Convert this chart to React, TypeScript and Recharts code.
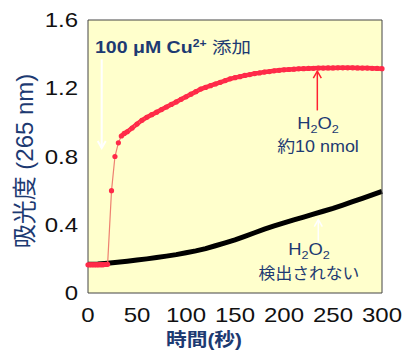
import React from 'react';
import { LineChart, Line, XAxis, YAxis, CartesianGrid, ReferenceLine } from 'recharts';

// red: with 100 µM Cu2+ added (H2O2 ~10 nmol)
const redTime = [0, 2.5, 5, 7.5, 10, 12.5, 15, 17.5, 20, 24, 27.5, 31, 34, 37, 40, 45, 50, 55, 60, 65, 70, 75, 80, 85, 90, 95, 100, 105, 110, 115, 120, 125, 130, 135, 140, 145, 150, 155, 160, 165, 170, 175, 180, 185, 190, 195, 200, 205, 210, 215, 220, 225, 230, 235, 240, 245, 250, 255, 260, 265, 270, 275, 280, 285, 290, 295, 300];
const redAbs = [0.165, 0.165, 0.165, 0.165, 0.165, 0.166, 0.166, 0.167, 0.168, 0.6, 0.8, 0.88, 0.92, 0.935, 0.945, 0.967, 0.99, 1.012, 1.03, 1.045, 1.06, 1.075, 1.09, 1.105, 1.12, 1.135, 1.15, 1.165, 1.18, 1.195, 1.205, 1.215, 1.225, 1.235, 1.245, 1.255, 1.262, 1.268, 1.275, 1.28, 1.286, 1.29, 1.295, 1.298, 1.302, 1.305, 1.308, 1.31, 1.312, 1.314, 1.315, 1.316, 1.317, 1.318, 1.318, 1.319, 1.319, 1.32, 1.32, 1.32, 1.32, 1.319, 1.318, 1.318, 1.317, 1.316, 1.315];

// black: no H2O2 detected
const blackTime = [0, 10, 20, 30, 40, 50, 60, 70, 80, 90, 100, 110, 120, 130, 140, 150, 160, 170, 180, 190, 200, 210, 220, 230, 240, 250, 260, 270, 280, 290, 300];
const blackAbs = [0.168, 0.17, 0.175, 0.18, 0.186, 0.193, 0.2, 0.208, 0.216, 0.225, 0.236, 0.247, 0.26, 0.277, 0.294, 0.312, 0.332, 0.353, 0.374, 0.393, 0.411, 0.428, 0.445, 0.462, 0.479, 0.496, 0.515, 0.535, 0.555, 0.575, 0.595];

const xTicks = [0, 50, 100, 150, 200, 250, 300];
const yTicks = [0, 0.4, 0.8, 1.2, 1.6];
const xMinor = Array.from({ length: 19 }, (_, i) => (i * 300) / 18);
const yMinor = Array.from({ length: 33 }, (_, i) => i * 0.05);

const redData = redTime.map((t, i) => ({ t, v: redAbs[i] }));
const blackData = blackTime.map((t, i) => ({ t, v: blackAbs[i] }));
// densely sampled stretches (before the jump, and after it) look like a solid thick line
const redBefore = redData.filter((d) => d.t <= 20);
const redAfter = redData.filter((d) => d.t >= 34);

const RED = '#ff2a48';
const NAVY = '#1d3a72';
const FONT = '"Liberation Sans", Arial, "Noto Sans CJK JP", sans-serif';

const XTick = (props: any) => {
  const { x, y, payload } = props;
  return (
    <g transform={`translate(${x},${y})`}>
      <text transform="scale(1.2,1)" textAnchor="middle" dy="0.71em" fontSize={20} fill="#111" fontFamily={FONT}>
        {payload.value}
      </text>
    </g>
  );
};

const YTick = (props: any) => {
  const { x, y, payload } = props;
  return (
    <g transform={`translate(${x},${y})`}>
      <text transform="scale(1.2,1)" textAnchor="end" dy="0.36em" fontSize={20} fill="#111" fontFamily={FONT}>
        {payload.value}
      </text>
    </g>
  );
};

const arrow = (color: string, w: number) => (props: any) => {
  const { x1, y1, x2, y2 } = props;
  const dir = y2 > y1 ? 1 : -1;
  return (
    <g>
      <line x1={x1} y1={y1} x2={x2} y2={y2} stroke={color} strokeWidth={w} />
      <polyline
        points={`${x2 - 4},${y2 - dir * 7} ${x2},${y2} ${x2 + 4},${y2 - dir * 7}`}
        fill="none"
        stroke={color}
        strokeWidth={w}
      />
    </g>
  );
};

const txt = (left: number, top: number, size: number, extra: React.CSSProperties = {}): React.CSSProperties => ({
  position: 'absolute',
  left,
  top,
  fontSize: size,
  lineHeight: `${size}px`,
  color: NAVY,
  fontFamily: FONT,
  whiteSpace: 'nowrap',
  ...extra,
});

export default function App() {
  return (
    <div style={{ position: 'relative', width: 402, height: 354, background: '#fff' }}>
      <style>{'body{margin:0}'}</style>
      <LineChart width={402} height={354} margin={{ top: 19, right: 19, bottom: 60, left: 87 }}>
        <CartesianGrid horizontal={false} vertical={false} fill="#ffffcc" />
        <XAxis dataKey="t" type="number" domain={[0, 300]} ticks={xTicks} tick={XTick} tickLine={false}
          axisLine={{ stroke: '#444' }} height={1} tickSize={0} tickMargin={15} />
        <XAxis xAxisId="minor" dataKey="t" type="number" domain={[0, 300]} ticks={xMinor} tick={false} mirror
          axisLine={false} tickLine={{ stroke: '#999' }} tickSize={3} height={1} />
        <XAxis xAxisId="major" dataKey="t" type="number" domain={[0, 300]} ticks={xTicks} tick={false} mirror
          axisLine={false} tickLine={{ stroke: '#999' }} tickSize={6} height={1} />
        <XAxis xAxisId="top" orientation="top" dataKey="t" type="number" domain={[0, 300]} tick={false}
          tickLine={false} axisLine={{ stroke: '#444' }} height={1} />
        <YAxis type="number" domain={[0, 1.6]} ticks={yTicks} tick={YTick} tickLine={false}
          axisLine={{ stroke: '#444' }} width={1} tickSize={0} tickMargin={10} />
        <YAxis yAxisId="minor" type="number" domain={[0, 1.6]} ticks={yMinor} tick={false} mirror
          axisLine={false} tickLine={{ stroke: '#999' }} tickSize={3} width={1} />
        <YAxis yAxisId="major" type="number" domain={[0, 1.6]} ticks={yTicks} tick={false} mirror
          axisLine={false} tickLine={{ stroke: '#999' }} tickSize={6} width={1} />
        <YAxis yAxisId="right" orientation="right" type="number" domain={[0, 1.6]} tick={false}
          tickLine={false} axisLine={{ stroke: '#444' }} width={1} />
        <Line data={blackData} dataKey="v" stroke="#000" strokeWidth={5} dot={false} isAnimationActive={false} />
        <Line data={redBefore} dataKey="v" stroke={RED} strokeWidth={5} dot={false} isAnimationActive={false} />
        <Line data={redAfter} dataKey="v" stroke={RED} strokeWidth={4.5} dot={false} isAnimationActive={false} />
        <Line data={redData} dataKey="v" stroke="#ee8070" strokeWidth={1.2}
          dot={{ r: 2.6, fill: RED, stroke: 'none' }} isAnimationActive={false} />
        <ReferenceLine segment={[{ x: 14, y: 1.37 }, { x: 14, y: 0.85 }]} shape={arrow('#fff', 2)} />
        <ReferenceLine segment={[{ x: 234, y: 1.07 }, { x: 234, y: 1.3 }]} shape={arrow('#ff2030', 1.5)} />
        <ReferenceLine segment={[{ x: 235, y: 0.3 }, { x: 235, y: 0.43 }]} shape={arrow('#fff', 1.5)} />
      </LineChart>

      <div style={txt(95, 40, 16, { transform: 'scaleX(1.22)', transformOrigin: 'left center' })}>
        <b>100 μM Cu<sup style={{ fontSize: 10, lineHeight: 0 }}>2+</sup></b> 添加
      </div>
      <div style={txt(318, 116, 16, { transform: 'translateX(-50%) scaleX(1.15)' })}>
        H<sub style={{ fontSize: 11, lineHeight: 0 }}>2</sub>O<sub style={{ fontSize: 11, lineHeight: 0 }}>2</sub>
      </div>
      <div style={txt(318, 139, 16, { transform: 'translateX(-50%) scaleX(1.12)' })}>約10 nmol</div>
      <div style={txt(309, 242, 16, { transform: 'translateX(-50%) scaleX(1.15)' })}>
        H<sub style={{ fontSize: 11, lineHeight: 0 }}>2</sub>O<sub style={{ fontSize: 11, lineHeight: 0 }}>2</sub>
      </div>
      <div style={txt(309, 266, 16, { transform: 'translateX(-50%) scaleX(1.05)' })}>検出されない</div>

      <div style={txt(25, 161, 24, { transform: 'translate(-50%,-50%) rotate(-90deg)' })}>吸光度 (265 nm)</div>
      <div style={txt(204, 331, 18, { fontWeight: 'bold', transform: 'translateX(-50%) scaleX(1.15)' })}>時間(秒)</div>
    </div>
  );
}
